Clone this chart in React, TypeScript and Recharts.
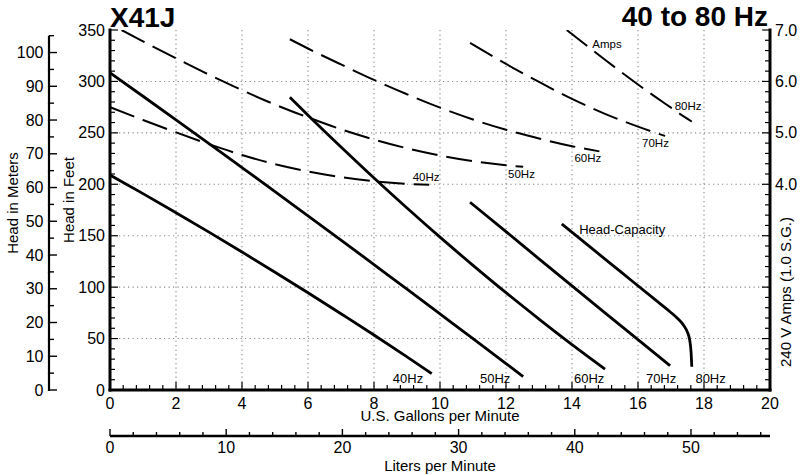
import React from 'react';
import { LineChart, Line, XAxis, YAxis, CartesianGrid, ReferenceDot } from 'recharts';

const FONT = '"Liberation Sans", Arial, Helvetica, sans-serif';

// ---- Head-capacity curves (U.S. GPM -> Head in feet) ----
const hc40Gpm = [0, 1, 2, 3, 4, 5, 6, 7, 8, 9, 9.75];
const hc40Ft = [209, 190.9, 172.3, 153.5, 134.2, 114.5, 94.5, 74.1, 53.5, 32.2, 16];
const hc50Gpm = [0, 1, 2, 3, 4, 5, 6, 7, 8, 9, 10, 11, 12, 12.52];
const hc50Ft = [308.5, 285.6, 262.6, 239.5, 216.2, 192.9, 169.4, 145.7, 121.9, 98.1, 74, 49.9, 25.7, 13];
const hc60Gpm = [5.45, 6, 7, 8, 9, 10, 11, 12, 13, 14, 15];
const hc60Ft = [284.5, 267.1, 236.2, 206.1, 176.9, 148.6, 121.2, 94.6, 69, 44.2, 20.4];
const hc70Gpm = [10.91, 12, 13, 14, 15, 16, 16.97];
const hc70Ft = [182.5, 154, 127.5, 101.2, 75, 49, 23.6];
const hc80Gpm = [13.69, 14.5, 15.5, 16.5, 16.97, 17.2, 17.38, 17.5, 17.57, 17.61, 17.63];
const hc80Ft = [161.4, 140.3, 114.3, 88.3, 76.1, 69.5, 63, 56, 48, 36, 22.7];

// ---- Amps curves (U.S. GPM -> 240 V Amps) ----
const am40Gpm = [0, 1, 2, 3, 4, 5, 6, 7, 8, 9, 9.67];
const am40A = [5.5, 5.25, 5.01, 4.78, 4.57, 4.39, 4.25, 4.14, 4.06, 4.01, 3.99];
const am50Gpm = [0.35, 1, 2, 3, 4, 5, 6, 7, 8, 9, 10, 11, 12, 12.52];
const am50A = [7.0, 6.78, 6.45, 6.13, 5.83, 5.55, 5.3, 5.07, 4.87, 4.7, 4.56, 4.45, 4.37, 4.34];
const am60Gpm = [5.45, 6, 7, 8, 9, 10, 11, 12, 13, 14, 14.83];
const am60A = [6.82, 6.64, 6.33, 6.03, 5.75, 5.49, 5.26, 5.06, 4.89, 4.74, 4.64];
const am70Gpm = [10.91, 12, 13, 14, 15, 16, 16.82];
const am70A = [6.75, 6.34, 5.99, 5.66, 5.37, 5.12, 4.94];
const am80Gpm = [13.84, 14.5, 15, 15.6, 16, 16.57, 17, 17.27, 17.63];
const am80A = [7.0, 6.67, 6.42, 6.13, 5.94, 5.68, 5.49, 5.37, 5.22];

// ---- In-plot labels ----
const headLabelText = ['40Hz', '50Hz', '60Hz', '70Hz', '80Hz', 'Head-Capacity'];
const headLabelGpm = [9.03, 11.67, 14.52, 16.7, 18.2, 15.52];
const headLabelFt = [11.7, 11.7, 11.7, 11.7, 11.7, 156.5];
const ampLabelText = ['40Hz', '50Hz', '60Hz', '70Hz', '80Hz', 'Amps'];
const ampLabelGpm = [9.58, 12.47, 14.48, 16.53, 17.52, 15.06];
const ampLabelA = [4.136, 4.21, 4.505, 4.81, 5.52, 6.72];

// ---- Axis ticks ----
const gpmLabels = [0, 2, 4, 6, 8, 10, 12, 14, 16, 18, 20];
const gpmTicks = Array.from({ length: 51 }, (_, i) => Math.round(i * 4) / 10);
const ftLabels = [0, 50, 100, 150, 200, 250, 300, 350];
const ftTicks = Array.from({ length: 36 }, (_, i) => i * 10);
const mLabels = [0, 10, 20, 30, 40, 50, 60, 70, 80, 90, 100];
const mTicks = Array.from({ length: 22 }, (_, i) => i * 5);
const ampLabels = [4, 5, 6, 7];
const ampTicks = Array.from({ length: 36 }, (_, i) => Math.round(i * 2) / 10);
const lpmLabels = [0, 10, 20, 30, 40, 50];
const lpmTicks = Array.from({ length: 29 }, (_, i) => i * 2);
const gridGpm = [2, 4, 6, 8, 10, 12, 14, 16, 18];
const gridFt = [50, 100, 150, 200, 250, 300];

const FT_MAX = 350;
const M_MAX = FT_MAX / 3.28084;
const LPM_MAX = 56.8;
const PLOT_H = 360;

const zip = (xs: number[], ys: number[]) => xs.map((x, i) => ({ x, y: ys[i] }));
const headSeries = [
  zip(hc40Gpm, hc40Ft), zip(hc50Gpm, hc50Ft), zip(hc60Gpm, hc60Ft), zip(hc70Gpm, hc70Ft), zip(hc80Gpm, hc80Ft),
];
const ampSeries = [
  zip(am40Gpm, am40A), zip(am50Gpm, am50A), zip(am60Gpm, am60A), zip(am70Gpm, am70A), zip(am80Gpm, am80A),
];

const isIn = (v: number, arr: number[]) => arr.some((a) => Math.abs(a - v) < 1e-6);
const TS = 16;

const GpmTick = (p: any) => {
  const { x, y, payload } = p;
  const v = payload.value;
  const major = isIn(v, gpmLabels);
  return (
    <g>
      <line x1={x} x2={x} y1={y} y2={y - (major ? 8 : 5)} stroke="#000" strokeWidth={1.2} />
      {major && (
        <text x={x} y={y + 13} textAnchor="middle" dominantBaseline="central" fontSize={TS} fill="#000">
          {v}
        </text>
      )}
    </g>
  );
};

const TopTick = (p: any) => {
  const { x, y, payload } = p;
  const major = isIn(payload.value, gpmLabels);
  return <line x1={x} x2={x} y1={y} y2={y + (major ? 8 : 5)} stroke="#000" strokeWidth={1.2} />;
};

const FtTick = (p: any) => {
  const { x, y, payload } = p;
  const v = payload.value;
  const major = isIn(v, ftLabels);
  return (
    <g>
      <line x1={x} x2={x + (major ? 8 : 5)} y1={y} y2={y} stroke="#000" strokeWidth={1.2} />
      {major && (
        <text x={x - 5} y={y} textAnchor="end" dominantBaseline="central" fontSize={TS} fill="#000">
          {v}
        </text>
      )}
    </g>
  );
};

const MTick = (p: any) => {
  const { x, y, payload } = p;
  const v = payload.value;
  const major = isIn(v, mLabels);
  const seg = (5 / M_MAX) * PLOT_H;
  return (
    <g>
      {v < 105 && <line x1={x} x2={x} y1={y + 1} y2={y - seg} stroke="#000" strokeWidth={2.2} />}
      <line x1={x} x2={x + (major ? 8 : 5)} y1={y} y2={y} stroke="#000" strokeWidth={1.4} />
      {major && (
        <text x={x - 5.5} y={y} textAnchor="end" dominantBaseline="central" fontSize={TS} fill="#000">
          {v}
        </text>
      )}
    </g>
  );
};

const AmpTick = (p: any) => {
  const { x, y, payload } = p;
  const v = payload.value;
  const major = Math.abs(v - Math.round(v)) < 1e-6;
  const lab = isIn(v, ampLabels);
  return (
    <g>
      <line x1={x} x2={x - (major ? 8 : 5)} y1={y} y2={y} stroke="#000" strokeWidth={1.2} />
      {lab && (
        <text x={x + 5} y={y} textAnchor="start" dominantBaseline="central" fontSize={TS} fill="#000">
          {v.toFixed(1)}
        </text>
      )}
    </g>
  );
};

const LpmTick = (p: any) => {
  const { x, y, payload } = p;
  const v = payload.value;
  const major = isIn(v, lpmLabels);
  return (
    <g>
      <line x1={x} x2={x} y1={y} y2={y - (major ? 7 : 4)} stroke="#000" strokeWidth={1.4} />
      {major && (
        <text x={x} y={y + 11} textAnchor="middle" dominantBaseline="central" fontSize={TS} fill="#000">
          {v}
        </text>
      )}
    </g>
  );
};

const border = { stroke: '#000', strokeWidth: 3, strokeLinecap: 'square' as const };

export default function App() {
  return (
    <div style={{ position: 'absolute', left: 0, top: 0, width: 800, height: 475, fontFamily: FONT, background: '#fff' }}>
      <LineChart width={800} height={475} margin={{ top: 30, right: 0, bottom: 0, left: 0 }}>
        <XAxis xAxisId="gpm" type="number" dataKey="x" domain={[0, 20]} allowDataOverflow ticks={gpmTicks}
          interval={0} tick={<GpmTick />} tickSize={0} tickMargin={0} tickLine={false} axisLine={border} height={46} />
        <XAxis xAxisId="lpm" type="number" dataKey="x" domain={[0, LPM_MAX]} allowDataOverflow ticks={lpmTicks}
          interval={0} tick={<LpmTick />} tickSize={0} tickMargin={0} tickLine={false}
          axisLine={{ stroke: '#000', strokeWidth: 2.5 }} height={39} />
        <XAxis xAxisId="top" orientation="top" type="number" dataKey="x" domain={[0, 20]} allowDataOverflow
          ticks={gpmTicks} interval={0} tick={<TopTick />} tickSize={0} tickMargin={0} tickLine={false}
          axisLine={border} height={0} />
        <YAxis yAxisId="ft" type="number" domain={[0, FT_MAX]} allowDataOverflow ticks={ftTicks} interval={0}
          tick={<FtTick />} tickSize={0} tickMargin={0} tickLine={false} axisLine={border} width={61} />
        <YAxis yAxisId="m" type="number" domain={[0, M_MAX]} allowDataOverflow ticks={mTicks} interval={0}
          tick={<MTick />} tickSize={0} tickMargin={0} tickLine={false} axisLine={false} width={49} />
        <YAxis yAxisId="amps" orientation="right" type="number" domain={[0, 7]} allowDataOverflow ticks={ampTicks}
          interval={0} tick={<AmpTick />} tickSize={0} tickMargin={0} tickLine={false} axisLine={border} width={30} />

        <CartesianGrid xAxisId="gpm" yAxisId="ft" verticalValues={gridGpm} horizontalValues={gridFt}
          stroke="#888" strokeDasharray="1.2 3.3" strokeWidth={1.1} fill="none" />

        {headSeries.map((d, i) => (
          <Line key={'h' + i} data={d} dataKey="y" xAxisId="gpm" yAxisId="ft" type="monotone" stroke="#000"
            strokeWidth={2.8} dot={false} activeDot={false} isAnimationActive={false} />
        ))}
        {ampSeries.map((d, i) => (
          <Line key={'a' + i} data={d} dataKey="y" xAxisId="gpm" yAxisId="amps" type="monotone" stroke="#000"
            strokeWidth={2} strokeDasharray="26 9" dot={false} activeDot={false} isAnimationActive={false} />
        ))}

        {headLabelText.map((t, i) => (
          <ReferenceDot key={'hl' + i} x={headLabelGpm[i]} y={headLabelFt[i]} xAxisId="gpm" yAxisId="ft" r={0}
            fill="none" stroke="none"
            label={{ value: t, position: 'center', fontSize: 13, fill: '#000' }} />
        ))}
        {ampLabelText.map((t, i) => (
          <ReferenceDot key={'al' + i} x={ampLabelGpm[i]} y={ampLabelA[i]} xAxisId="gpm" yAxisId="amps" r={0}
            fill="none" stroke="none"
            label={{ value: t, position: 'center', fontSize: 11.5, fill: '#000' }} />
        ))}
      </LineChart>
      <svg width={800} height={475} style={{ position: 'absolute', left: 0, top: 0, pointerEvents: 'none' }}>
        <text x={110} y={26.5} fontSize={28} fontWeight="bold" fill="#000">X41J</text>
        <text x={768} y={26} fontSize={28} fontWeight="bold" textAnchor="end" fill="#000">40 to 80 Hz</text>
        <text x={12} y={203} fontSize={15} textAnchor="middle" dominantBaseline="central" transform="rotate(-90 12 203)" fill="#000">Head in Meters</text>
        <text x={68} y={200} fontSize={15} textAnchor="middle" dominantBaseline="central" transform="rotate(-90 68 200)" fill="#000">Head in Feet</text>
        <text x={785} y={292} fontSize={15} textAnchor="middle" dominantBaseline="central" transform="rotate(-90 785 292)" fill="#000">240 V Amps (1.0 S.G.)</text>
        <text x={440} y={415.5} fontSize={15} textAnchor="middle" dominantBaseline="central" fill="#000">U.S. Gallons per Minute</text>
        <text x={440} y={465} fontSize={15} textAnchor="middle" dominantBaseline="central" fill="#000">Liters per Minute</text>
      </svg>
    </div>
  );
}
